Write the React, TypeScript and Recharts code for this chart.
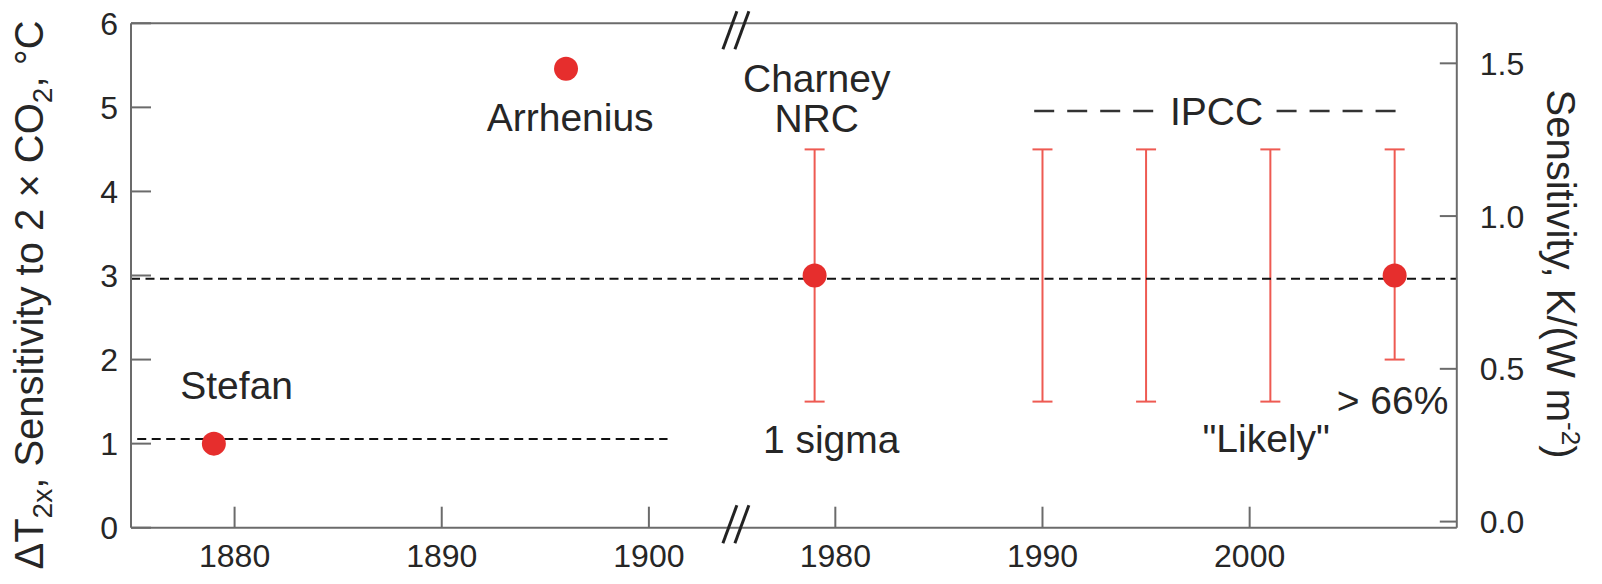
import React from "react";
import {
  ScatterChart,
  Scatter,
  XAxis,
  YAxis,
  ErrorBar,
  ReferenceLine,
  ReferenceDot,
  Label,
} from "recharts";

// x axis is broken: the years between ~1904 and ~1975 are cut out
const GAP = 71;
const BREAK_AT = 1904.2;
const toAxis = (year: number) => (year > 1940 ? year - GAP : year);
const fromAxis = (u: number) => (u > BREAK_AT ? Math.round(u + GAP) : Math.round(u));

const yearTicks = [1880, 1890, 1900, 1980, 1990, 2000];
const leftTicks = [0, 1, 2, 3, 4, 5, 6];
const rightTicks = [0, 0.5, 1.0, 1.5];

// single estimates (red dots)
const pointYears = [1879, 1896, 1979, 2007];
const pointValues = [1, 5.46, 3, 3];

// ranges (error bars)
const rangeYears = [1979, 1990, 1995, 2001, 2007];
const rangeLow = [1.5, 1.5, 1.5, 1.5, 2];
const rangeHigh = [4.5, 4.5, 4.5, 4.5, 4.5];

// text notes inside the plot
const noteTexts = ["Stefan", "Arrhenius", "Charney", "NRC", "1 sigma", "IPCC", '"Likely"', "> 66%"];
const noteYears = [1880.1, 1896.2, 1979.1, 1979.1, 1979.8, 1998.4, 2000.8, 2006.9];
const noteValues = [1.7, 4.88, 5.35, 4.87, 1.053, 4.957, 1.063, 1.52];

// dashed guides
const mainLevel = 2.96;
const stefanLevel = 1.055;
const stefanSpan = [1875.3, 1900.9];
const ipccLevel = 4.957;
const ipccLeft = [1989.6, 1995.4];
const ipccRight = [2001.3, 2007.3];

const FONT = "'Liberation Sans', Arial, Helvetica, sans-serif";
const INK = "#262626";
const AXIS = "#6b6b6b";
const DOT = "#e62e2d";
const BAR = "#ee5a52";

const points = pointYears.map((y, i) => ({ u: toAxis(y), v: pointValues[i] }));
const ranges = rangeYears.map((y, i) => {
  const mid = (rangeLow[i] + rangeHigh[i]) / 2;
  return { u: toAxis(y), v: mid, err: [mid - rangeLow[i], rangeHigh[i] - mid] };
});
const notes = noteTexts.map((t, i) => ({ u: toAxis(noteYears[i]), v: noteValues[i], text: t }));

const BottomTick = (p: any) => (
  <g>
    <line x1={p.x} y1={p.y} x2={p.x} y2={p.y - 21} stroke={AXIS} strokeWidth={2} />
    <text x={p.x} y={p.y + 39} textAnchor="middle" fontSize={32} fontFamily={FONT} fill={INK}>
      {fromAxis(p.payload.value)}
    </text>
  </g>
);

const TopTick = (p: any) => (
  <line x1={p.x} y1={p.y} x2={p.x} y2={p.y + 21} stroke={AXIS} strokeWidth={2} />
);

const LeftTick = (p: any) => (
  <g>
    <line x1={p.x} y1={p.y} x2={p.x + 20} y2={p.y} stroke={AXIS} strokeWidth={2} />
    <text x={p.x - 13} y={p.y} dy={11.5} textAnchor="end" fontSize={32} fontFamily={FONT} fill={INK}>
      {p.payload.value}
    </text>
  </g>
);

const RightTick = (p: any) => (
  <g>
    <line x1={p.x} y1={p.y} x2={p.x - 17} y2={p.y} stroke={AXIS} strokeWidth={2} />
    <text x={p.x + 23} y={p.y} dy={11.5} textAnchor="start" fontSize={32} fontFamily={FONT} fill={INK}>
      {Number(p.payload.value).toFixed(1)}
    </text>
  </g>
);

const BreakMark = (shift: number) => (p: any) => (
  <g stroke="#222" strokeWidth={3}>
    {[-6, 6].map((o) => (
      <line
        key={o}
        x1={p.cx + o - 7}
        y1={p.cy + shift + 19}
        x2={p.cx + o + 7}
        y2={p.cy + shift - 19}
      />
    ))}
  </g>
);

const LeftTitle = () => (
  <text
    x={43}
    y={295}
    transform="rotate(-90, 43, 295)"
    textAnchor="middle"
    fontSize={40}
    fontFamily={FONT}
    fill={INK}
  >
    ΔT
    <tspan dy={9} fontSize={28}>2x</tspan>
    <tspan dy={-9}>, Sensitivity to 2 × CO</tspan>
    <tspan dy={9} fontSize={28}>2</tspan>
    <tspan dy={-9}>, °C</tspan>
  </text>
);

const RightTitle = () => (
  <text
    x={1547}
    y={274}
    transform="rotate(90, 1547, 274)"
    textAnchor="middle"
    fontSize={40}
    fontFamily={FONT}
    fill={INK}
  >
    Sensitivity, K/(W m
    <tspan dy={-15} fontSize={26}>-2</tspan>
    <tspan dy={15}>)</tspan>
  </text>
);

export default function App() {
  return (
    <div style={{ width: 1602, height: 584, background: "#fff" }}>
      <style>{"body{margin:0}"}</style>
      <ScatterChart width={1602} height={584} margin={{ top: 0, right: 0, bottom: 0, left: 0 }}>
        <XAxis
          dataKey="u"
          type="number"
          domain={[1875, 2010 - GAP]}
          ticks={yearTicks.map(toAxis)}
          allowDataOverflow
          height={56.3}
          stroke={AXIS}
          strokeWidth={2}
          tickLine={false}
          tickSize={0}
          tickMargin={0}
          tick={BottomTick}
          interval={0}
        />
        <XAxis
          xAxisId="top"
          orientation="top"
          type="number"
          domain={[1875, 2010 - GAP]}
          ticks={yearTicks.map(toAxis)}
          allowDataOverflow
          height={23.3}
          stroke={AXIS}
          strokeWidth={2}
          tickLine={false}
          tickSize={0}
          tickMargin={0}
          tick={TopTick}
          interval={0}
        />
        <YAxis
          dataKey="v"
          type="number"
          domain={[0, 6]}
          ticks={leftTicks}
          allowDataOverflow
          width={131}
          stroke={AXIS}
          strokeWidth={2}
          tickLine={false}
          tickSize={0}
          tickMargin={0}
          tick={LeftTick}
          interval={0}
        >
          <Label content={LeftTitle} />
        </YAxis>
        <YAxis
          yAxisId="right"
          orientation="right"
          type="number"
          domain={[-0.02, 1.631]}
          ticks={rightTicks}
          allowDataOverflow
          width={145.2}
          stroke={AXIS}
          strokeWidth={2}
          tickLine={false}
          tickSize={0}
          tickMargin={0}
          tick={RightTick}
          interval={0}
        >
          <Label content={RightTitle} />
        </YAxis>

        <Scatter data={ranges} isAnimationActive={false} shape={() => <g />}>
          <ErrorBar
            dataKey="err"
            direction="y"
            width={10}
            stroke={BAR}
            strokeWidth={2}
            isAnimationActive={false}
          />
        </Scatter>
        <Scatter
          data={points}
          isAnimationActive={false}
          shape={(p: any) => <circle cx={p.cx} cy={p.cy} r={12} fill={DOT} />}
        />
        <Scatter
          data={notes}
          isAnimationActive={false}
          shape={(p: any) => (
            <text
              x={p.cx}
              y={p.cy}
              dy={14}
              textAnchor="middle"
              fontSize={39}
              fontFamily={FONT}
              fill={INK}
            >
              {p.payload.text}
            </text>
          )}
        />

        <ReferenceLine y={mainLevel} stroke="#111" strokeWidth={2} strokeDasharray="9 5.5" />
        <ReferenceLine
          segment={[
            { x: toAxis(stefanSpan[0]), y: stefanLevel },
            { x: toAxis(stefanSpan[1]), y: stefanLevel },
          ]}
          stroke="#111"
          strokeWidth={2}
          strokeDasharray="9 5.5"
        />
        {[ipccLeft, ipccRight].map((s, i) => (
          <ReferenceLine
            key={i}
            segment={[
              { x: toAxis(s[0]), y: ipccLevel },
              { x: toAxis(s[1]), y: ipccLevel },
            ]}
            stroke="#333"
            strokeWidth={2.5}
            strokeDasharray="20 13"
          />
        ))}
        <ReferenceDot x={BREAK_AT} y={0} r={0} shape={BreakMark(-3.5)} />
        <ReferenceDot x={BREAK_AT} y={6} r={0} shape={BreakMark(7)} />
      </ScatterChart>
    </div>
  );
}
